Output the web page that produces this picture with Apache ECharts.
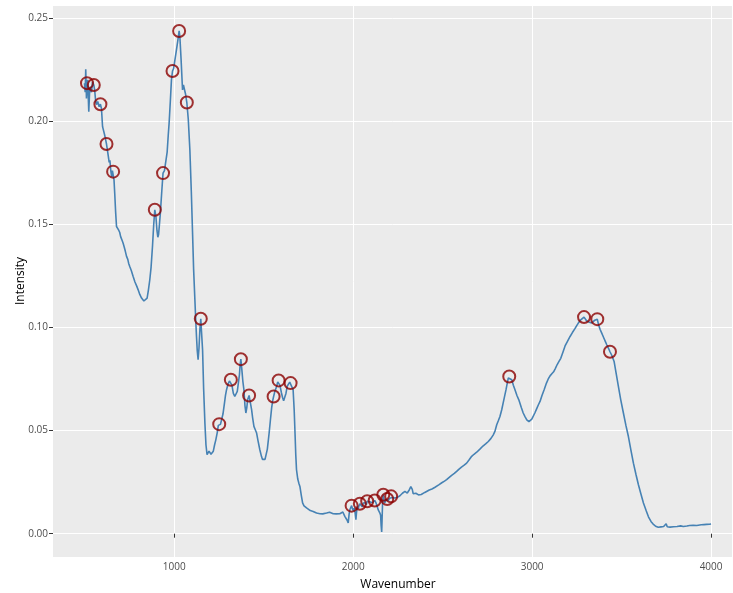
<!DOCTYPE html>
<html>
<head>
<meta charset="utf-8">
<script src="https://cdn.jsdelivr.net/npm/echarts@6/dist/echarts.min.js"></script>
<style>
html,body{margin:0;padding:0;background:#fff;}
#chart{width:733px;height:593px;}
</style>
</head>
<body>
<div id="chart"></div>
<script>
var wavenumber = [498,502,505,509,512,516,519,522,527,531,537,543,550,555,560,565,572,580,587,593,599,605,610,615,621,626,630,636,640,645,650,654,658,663,667,672,677,683,686,690,695,700,705,709,714,720,726,733,740,745,751,760,770,780,790,798,807,817,825,830,835,840,848,855,863,870,878,885,891,897,903,908,912,917,922,930,937,945,952,960,966,971,978,984,990,996,1003,1012,1020,1027,1031,1038,1046,1051,1057,1063,1070,1078,1087,1095,1102,1108,1115,1120,1124,1128,1133,1138,1143,1148,1152,1158,1164,1171,1177,1183,1190,1194,1199,1205,1211,1218,1225,1232,1240,1246,1251,1258,1264,1272,1280,1286,1292,1300,1308,1316,1322,1330,1338,1345,1352,1357,1364,1368,1372,1377,1383,1389,1395,1400,1405,1410,1418,1424,1432,1438,1445,1452,1460,1468,1478,1487,1493,1497,1502,1507,1512,1520,1530,1537,1544,1550,1555,1562,1572,1578,1583,1590,1599,1605,1611,1618,1624,1631,1638,1645,1650,1656,1664,1670,1675,1679,1683,1690,1696,1702,1710,1717,1725,1732,1739,1750,1760,1770,1776,1785,1795,1805,1814,1822,1830,1840,1851,1860,1868,1875,1888,1897,1905,1915,1925,1935,1942,1947,1953,1960,1966,1972,1977,1981,1986,1991,1996,2001,2006,2010,2015,2018,2022,2028,2032,2037,2043,2050,2056,2062,2068,2073,2078,2085,2092,2100,2107,2114,2120,2127,2134,2140,2145,2149,2153,2156,2159,2161,2164,2168,2172,2177,2181,2186,2190,2196,2203,2208,2212,2220,2227,2233,2240,2247,2254,2261,2268,2275,2282,2289,2295,2302,2308,2313,2317,2322,2326,2330,2335,2340,2345,2350,2354,2360,2365,2369,2380,2390,2400,2410,2425,2440,2455,2466,2480,2495,2510,2522,2535,2550,2565,2578,2590,2605,2620,2634,2648,2662,2675,2690,2708,2725,2740,2755,2770,2782,2792,2802,2812,2820,2830,2842,2854,2862,2867,2872,2878,2886,2895,2904,2915,2925,2932,2940,2950,2960,2970,2976,2982,2990,2998,3006,3015,3025,3035,3044,3055,3068,3080,3090,3100,3110,3120,3128,3140,3150,3160,3172,3184,3196,3212,3225,3240,3250,3258,3270,3280,3290,3298,3304,3309,3320,3333,3342,3350,3357,3364,3372,3380,3389,3400,3410,3417,3426,3435,3445,3458,3470,3482,3495,3510,3524,3538,3552,3566,3580,3594,3608,3622,3638,3650,3656,3665,3675,3681,3690,3697,3705,3712,3720,3728,3735,3742,3749,3755,3763,3771,3780,3790,3800,3810,3820,3830,3845,3855,3865,3880,3890,3900,3910,3920,3930,3945,3960,3975,3990,4000];
var intensity = [0.2184,0.2140,0.2251,0.2110,0.2184,0.2200,0.2120,0.2046,0.2150,0.2167,0.2140,0.2190,0.2175,0.2150,0.2100,0.2080,0.2095,0.2070,0.2082,0.2060,0.1973,0.1975,0.1935,0.1915,0.1889,0.1860,0.1836,0.1800,0.1810,0.1760,0.1730,0.1760,0.1755,0.1715,0.1650,0.1560,0.1489,0.1480,0.1492,0.1470,0.1460,0.1440,0.1445,0.1420,0.1408,0.1390,0.1370,0.1344,0.1330,0.1310,0.1295,0.1275,0.1247,0.1220,0.1200,0.1182,0.1160,0.1142,0.1135,0.1128,0.1126,0.1132,0.1142,0.1180,0.1231,0.1290,0.1392,0.1500,0.1570,0.1540,0.1470,0.1437,0.1450,0.1500,0.1554,0.1660,0.1748,0.1760,0.1764,0.1850,0.1930,0.1990,0.2100,0.2200,0.2243,0.2255,0.2264,0.2345,0.2393,0.2437,0.2410,0.2297,0.2151,0.2175,0.2175,0.2130,0.2090,0.2010,0.1860,0.1660,0.1457,0.1280,0.1134,0.1030,0.0956,0.0890,0.0843,0.0900,0.0990,0.1042,0.0980,0.0891,0.0700,0.0536,0.0430,0.0383,0.0385,0.0400,0.0399,0.0385,0.0379,0.0400,0.0430,0.0455,0.0490,0.0525,0.0531,0.0530,0.0523,0.0580,0.0630,0.0670,0.0698,0.0725,0.0740,0.0746,0.0720,0.0680,0.0665,0.0670,0.0690,0.0698,0.0770,0.0820,0.0846,0.0800,0.0740,0.0698,0.0620,0.0585,0.0610,0.0650,0.0670,0.0640,0.0601,0.0560,0.0520,0.0505,0.0488,0.0450,0.0407,0.0375,0.0360,0.0355,0.0356,0.0360,0.0367,0.0410,0.0488,0.0550,0.0610,0.0645,0.0665,0.0690,0.0714,0.0735,0.0743,0.0720,0.0682,0.0660,0.0645,0.0641,0.0680,0.0714,0.0725,0.0735,0.0730,0.0735,0.0698,0.0600,0.0480,0.0380,0.0310,0.0265,0.0245,0.0229,0.0185,0.0149,0.0135,0.0130,0.0125,0.0120,0.0112,0.0110,0.0108,0.0105,0.0100,0.0102,0.0097,0.0103,0.0096,0.0102,0.0100,0.0097,0.0104,0.0095,0.0097,0.0102,0.0096,0.0099,0.0097,0.0095,0.0105,0.0098,0.0084,0.0080,0.0065,0.0052,0.0095,0.0116,0.0110,0.0136,0.0120,0.0110,0.0125,0.0105,0.0068,0.0100,0.0132,0.0120,0.0135,0.0145,0.0140,0.0130,0.0149,0.0145,0.0150,0.0140,0.0157,0.0150,0.0155,0.0158,0.0150,0.0155,0.0161,0.0150,0.0132,0.0115,0.0112,0.0100,0.0090,0.0040,0.0008,0.0060,0.0149,0.0189,0.0165,0.0150,0.0165,0.0158,0.0168,0.0160,0.0172,0.0165,0.0181,0.0175,0.0172,0.0173,0.0178,0.0176,0.0182,0.0184,0.0190,0.0196,0.0198,0.0205,0.0210,0.0197,0.0200,0.0212,0.0221,0.0228,0.0233,0.0215,0.0194,0.0196,0.0200,0.0196,0.0194,0.0190,0.0188,0.0184,0.0190,0.0195,0.0200,0.0205,0.0212,0.0217,0.0224,0.0229,0.0238,0.0247,0.0255,0.0262,0.0272,0.0283,0.0292,0.0302,0.0312,0.0323,0.0332,0.0342,0.0358,0.0375,0.0385,0.0395,0.0410,0.0425,0.0435,0.0447,0.0462,0.0478,0.0496,0.0528,0.0550,0.0568,0.0601,0.0650,0.0698,0.0735,0.0755,0.0762,0.0750,0.0746,0.0720,0.0698,0.0670,0.0650,0.0641,0.0610,0.0585,0.0568,0.0552,0.0545,0.0543,0.0548,0.0555,0.0560,0.0585,0.0605,0.0625,0.0641,0.0670,0.0700,0.0730,0.0750,0.0765,0.0775,0.0785,0.0798,0.0820,0.0835,0.0850,0.0880,0.0910,0.0930,0.0956,0.0975,0.0995,0.1010,0.1021,0.1035,0.1044,0.1050,0.1042,0.1032,0.1029,0.1025,0.1021,0.1028,0.1035,0.1040,0.1040,0.1010,0.0990,0.0972,0.0950,0.0930,0.0916,0.0900,0.0882,0.0865,0.0835,0.0775,0.0714,0.0650,0.0585,0.0525,0.0471,0.0405,0.0342,0.0288,0.0237,0.0192,0.0149,0.0110,0.0082,0.0076,0.0058,0.0048,0.0044,0.0036,0.0030,0.0031,0.0038,0.0033,0.0040,0.0035,0.0040,0.0048,0.0034,0.0033,0.0032,0.0036,0.0034,0.0037,0.0035,0.0036,0.0038,0.0035,0.0039,0.0037,0.0040,0.0038,0.0041,0.0039,0.0040,0.0042,0.0043,0.0044,0.0045,0.0046,0.0047];

var peakWavenumber = [512,550,587,621,658,891,937,990,1027,1070,1148,1251,1316,1372,1418,1555,1583,1650,1991,2037,2078,2120,2168,2190,2212,2872,3290,3364,3435];
var peakIntensity = [0.2184,0.2175,0.2082,0.1889,0.1755,0.1570,0.1748,0.2243,0.2437,0.2090,0.1042,0.0531,0.0746,0.0846,0.0670,0.0665,0.0743,0.0730,0.0136,0.0145,0.0157,0.0161,0.0189,0.0168,0.0181,0.0762,0.1050,0.1040,0.0882];

var xTicks = [1000,2000,3000,4000];
var yTicks = [0,0.05,0.10,0.15,0.20,0.25];

var lineData = wavenumber.map(function(w,i){return [w,intensity[i]];});
var peakData = peakWavenumber.map(function(w,i){return [w,peakIntensity[i]];});

var chart = echarts.init(document.getElementById('chart'));
var font = '"Open Sans", "Liberation Sans", sans-serif';
chart.setOption({
  animation:false,
  backgroundColor:'#ffffff',
  grid:{left:53,right:1,top:6,bottom:36,show:true,backgroundColor:'#ebebeb',borderWidth:0},
  xAxis:{
    type:'value',min:322,max:4117,
    axisLine:{show:false},
    axisTick:{show:true,length:4,lineStyle:{color:'#333',width:1},customValues:xTicks},
    axisLabel:{color:'#4d4d4d',fontFamily:font,fontSize:10,margin:5,customValues:xTicks,formatter:function(v){return String(v);}},
    splitLine:{show:true,lineStyle:{color:'#ffffff',width:1}}
  },
  yAxis:{
    type:'value',min:-0.0113,max:0.2558,
    axisLine:{show:false},
    axisTick:{show:true,length:4,lineStyle:{color:'#333',width:1},customValues:yTicks},
    axisLabel:{color:'#4d4d4d',fontFamily:font,fontSize:10,margin:5,customValues:yTicks,formatter:function(v){return v.toFixed(2);}},
    splitLine:{show:true,lineStyle:{color:'#ffffff',width:1}}
  },
  graphic:[
    {type:'text',x:398,y:585,style:{text:'Wavenumber',fill:'#000',font:'12px '+font,textAlign:'center',textVerticalAlign:'middle'},silent:true},
    {type:'text',rotation:Math.PI/2,x:21,y:281,style:{text:'Intensity',fill:'#000',font:'12px '+font,textAlign:'center',textVerticalAlign:'middle'},silent:true}
  ],
  series:[
    {type:'line',data:lineData,showSymbol:false,symbol:'none',lineStyle:{color:'#4682b4',width:1.6},z:2},
    {type:'scatter',data:peakData,symbol:'circle',symbolSize:12,itemStyle:{color:'rgba(0,0,0,0)',borderColor:'#8b0000',borderWidth:2},z:3}
  ]
});
</script>
</body>
</html>
